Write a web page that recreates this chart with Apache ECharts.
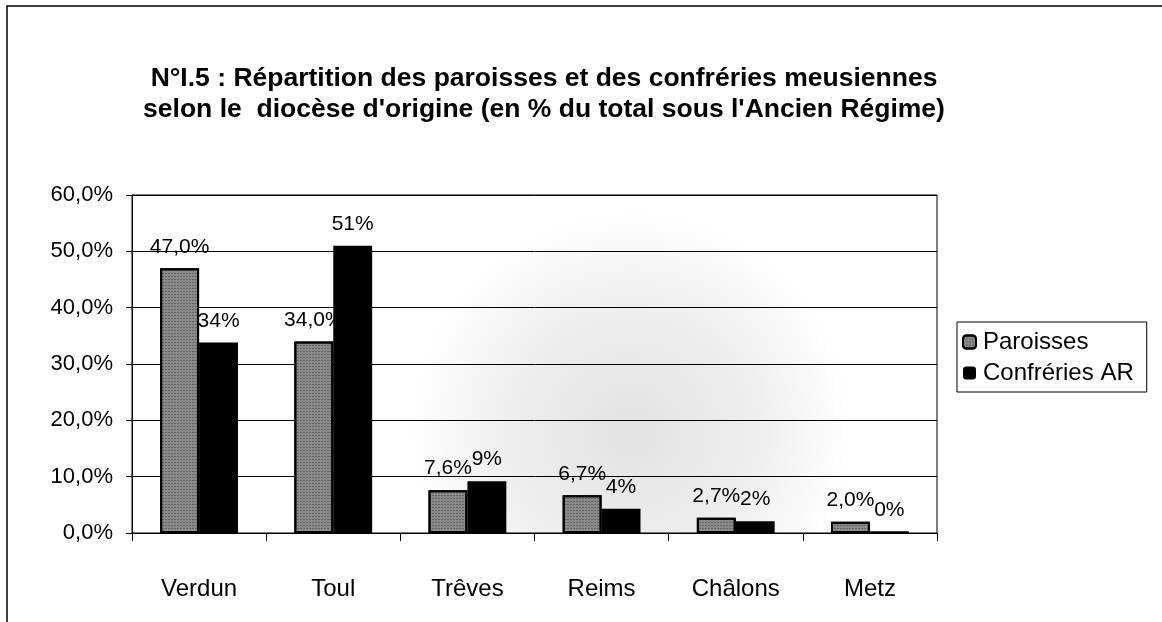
<!DOCTYPE html>
<html>
<head>
<meta charset="utf-8">
<script src="https://cdn.jsdelivr.net/npm/echarts@6/dist/echarts.min.js"></script>
<style>
  html, body { margin: 0; padding: 0; background: #fff; }
  #chart { width: 1162px; height: 622px; }
</style>
</head>
<body>
<div id="chart"></div>
<script>
// diocèses d'origine
const dioceses = ['Verdun', 'Toul', 'Trêves', 'Reims', 'Châlons', 'Metz'];
// % du total sous l'Ancien Régime
const paroisses = [47.0, 34.0, 7.6, 6.7, 2.7, 2.0];
const confreries = [33.8, 51.0, 9.2, 4.3, 2.1, 0.3];
const yTicks = [0, 10, 20, 30, 40, 50, 60];

const font = 'Arial, "Liberation Sans", sans-serif';
const frComma = (v, d) => v.toFixed(d).replace('.', ',');

const chart = echarts.init(document.getElementById('chart'));

chart.setOption({
  backgroundColor: '#fff',
  animation: false,
  title: {
    text: "N°I.5 : Répartition des paroisses et des confréries meusiennes\nselon le  diocèse d'origine (en % du total sous l'Ancien Régime)",
    left: 539,
    top: 58,
    textAlign: 'center',
    textStyle: {
      fontFamily: font,
      fontSize: 26.5,
      fontWeight: 'bold',
      color: '#000',
      lineHeight: 31
    }
  },
  legend: {
    orient: 'vertical',
    left: 957,
    top: 322,
    padding: [8, 13, 7, 5],
    itemGap: 7,
    itemWidth: 13,
    itemHeight: 13,
    borderColor: '#000',
    borderWidth: 1,
    textStyle: { fontFamily: font, fontSize: 24, color: '#000', padding: [0, 0, 0, 2] },
    data: ['Paroisses', 'Confréries AR']
  },
  grid: {
    left: 132,
    right: 225,
    top: 195,
    bottom: 89,
    show: true,
    borderColor: '#000',
    borderWidth: 1,
    backgroundColor: new echarts.graphic.RadialGradient(0.62, 0.7, 0.65, [
      { offset: 0, color: '#e2e2e2' },
      { offset: 0.6, color: '#efefef' },
      { offset: 1, color: '#ffffff' }
    ])
  },
  xAxis: {
    type: 'category',
    data: dioceses,
    axisLine: { lineStyle: { color: '#000', width: 1 } },
    axisTick: { show: true, length: 8, lineStyle: { color: '#000' } },
    axisLabel: { fontFamily: font, fontSize: 24, color: '#000', margin: 44 }
  },
  yAxis: {
    type: 'value',
    min: yTicks[0],
    max: yTicks[yTicks.length - 1],
    interval: 10,
    axisLine: { show: true, lineStyle: { color: '#000' } },
    axisTick: { show: true, length: 6, lineStyle: { color: '#000' } },
    splitLine: { lineStyle: { color: '#000', width: 1 } },
    axisLabel: {
      fontFamily: font,
      fontSize: 22,
      color: '#000',
      margin: 19,
      formatter: v => frComma(v, 1) + '%'
    }
  },
  series: [
    {
      name: 'Paroisses',
      type: 'bar',
      data: paroisses,
      barGap: '0%',
      barCategoryGap: '42%',
      itemStyle: {
        color: '#8a8a8a',
        borderColor: '#000',
        borderWidth: 2,
        decal: {
          symbol: 'rect',
          symbolSize: 0.8,
          dashArrayX: [2, 1],
          dashArrayY: [1, 2],
          rotation: 0,
          color: 'rgba(30,30,30,0.45)'
        }
      },
      label: {
        show: true,
        position: 'top',
        distance: 11,
        fontFamily: font,
        fontSize: 21,
        color: '#000',
        formatter: p => frComma(p.value, 1) + '%'
      }
    },
    {
      name: 'Confréries AR',
      type: 'bar',
      data: confreries,
      itemStyle: { color: '#000' },
      label: {
        show: true,
        position: 'top',
        distance: 11,
        fontFamily: font,
        fontSize: 21,
        color: '#000',
        formatter: p => Math.round(p.value) + '%'
      }
    }
  ],
  graphic: [
    {
      type: 'rect',
      shape: { x: 7, y: 6, width: 1170, height: 640 },
      style: { fill: 'none', stroke: '#000', lineWidth: 1.5 },
      silent: true
    }
  ]
});
</script>
</body>
</html>
